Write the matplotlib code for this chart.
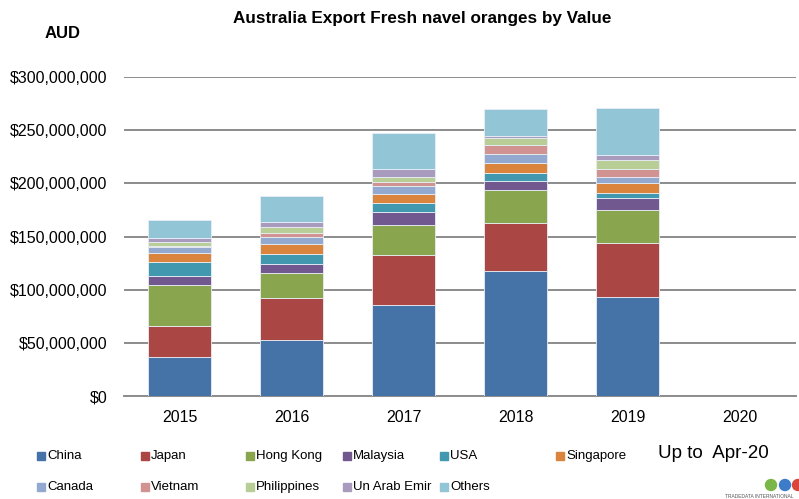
import numpy as np
import matplotlib.pyplot as plt
from matplotlib.patches import Rectangle, Ellipse

plt.rcParams['font.family'] = ['Liberation Sans', 'DejaVu Sans']

years = ['2015', '2016', '2017', '2018', '2019', '2020']
countries = ['China', 'Japan', 'Hong Kong', 'Malaysia', 'USA', 'Singapore',
             'Canada', 'Vietnam', 'Philippines', 'Un Arab Emir', 'Others']

# values in million AUD, per country, for 2015..2020
china = [36.4, 52.4, 85.3, 117.3, 93.4, 0]
japan = [29.7, 39.8, 47.6, 45.7, 50.5, 0]
hong_kong = [38.0, 23.2, 27.6, 30.5, 31.0, 0]
malaysia = [9.0, 8.7, 12.8, 8.4, 11.0, 0]
usa = [13.2, 9.7, 7.9, 7.4, 5.3, 0]
singapore = [8.5, 8.9, 9.1, 10.0, 9.1, 0]
canada = [5.0, 7.1, 7.2, 8.2, 5.4, 0]
vietnam = [1.3, 3.8, 4.0, 8.7, 8.1, 0]
philippines = [3.4, 5.1, 4.7, 6.3, 7.9, 0]
uae = [4.4, 5.2, 7.6, 2.4, 4.7, 0]
others = [16.6, 23.9, 33.8, 25.0, 44.5, 0]

series = [china, japan, hong_kong, malaysia, usa, singapore,
          canada, vietnam, philippines, uae, others]
colors = ['#4572A7', '#AA4643', '#89A54E', '#71588F', '#4198AF', '#DB843D',
          '#93A9CF', '#D19392', '#B9CD96', '#A99BBD', '#92C5D6']

fig = plt.figure(figsize=(7.99, 4.99), dpi=100)
ax = fig.add_axes([0.155, 0.2064, 0.841, 0.6393])

x = np.arange(len(years))
bottom = np.zeros(len(years))
for vals, c in zip(series, colors):
    v = np.array(vals) * 1e6
    ax.bar(x, v, 0.56, bottom=bottom, color=c, edgecolor='#e8eef5', linewidth=0.6, zorder=3)
    bottom += v

ax.set_xlim(-0.5, len(years) - 0.5)
ax.set_ylim(0, 300e6)
ax.set_yticks(np.arange(0, 300e6 + 1, 50e6))
ax.set_yticklabels(['${:,.0f}'.format(t) for t in np.arange(0, 300e6 + 1, 50e6)], fontsize=11.5)
ax.set_xticks(x)
ax.set_xticklabels(years, fontsize=11.5)
ax.tick_params(axis='both', length=0)
ax.tick_params(axis='y', pad=12)
ax.tick_params(axis='x', pad=10)
ax.grid(axis='y', color='#8c8c8c', linewidth=1.4, zorder=0)
for s in ['top', 'right', 'left']:
    ax.spines[s].set_visible(False)
ax.spines['bottom'].set_color('#8c8c8c')
ax.spines['bottom'].set_linewidth(1.4)

fig.text(0.528, 0.962, 'Australia Export Fresh navel oranges by Value',
         ha='center', va='center', fontsize=12.3, fontweight='bold')
fig.text(0.078, 0.933, 'AUD', ha='center', va='center', fontsize=12, fontweight='bold')

# legend laid out in two rows like the original
col_x = [37, 141, 246, 343, 440, 556]
row_y = [456, 487]
for i, (name, c) in enumerate(zip(countries, colors)):
    r, k = divmod(i, 6)
    px, py = col_x[k], row_y[r]
    fig.patches.append(Rectangle((px / 799, 1 - (py + 4) / 499), 8 / 799, 8 / 499,
                                 transform=fig.transFigure, color=c))
    fig.text((px + 10) / 799, 1 - py / 499, name, ha='left', va='center', fontsize=9.5)

fig.text(713 / 799, 1 - 453 / 499, 'Up to  Apr-20', ha='center', va='center', fontsize=13.5)

# small logo in the corner
for cx, cc in zip([771, 785, 798], ['#7ab648', '#3d7cc9', '#d9463b']):
    fig.patches.append(Ellipse((cx / 799, 1 - 485 / 499), 11 / 799, 11 / 499,
                               transform=fig.transFigure, color=cc))
fig.text(725 / 799, 1 - 496 / 499, 'TRADEDATA INTERNATIONAL', ha='left', va='center',
         fontsize=3.5, color='#555555')

fig.savefig('out.png', dpi=100)
